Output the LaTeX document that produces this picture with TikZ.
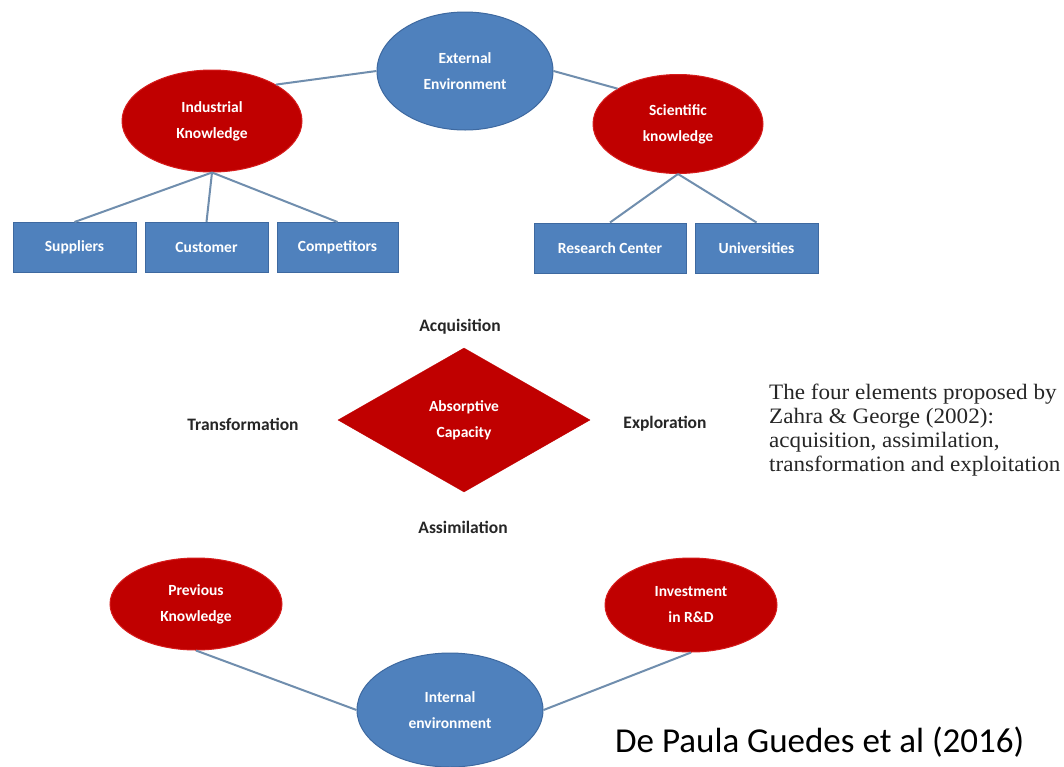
\documentclass[tikz,border=0pt]{standalone}
\usepackage{fontspec}
\setmainfont{Carlito}
\newfontfamily\notefont[FakeStretch=1.05]{Liberation Serif}
\usetikzlibrary{shapes.geometric}

\definecolor{capblue}{RGB}{79,129,189}
\definecolor{capblueedge}{RGB}{62,105,160}
\definecolor{capred}{RGB}{192,0,0}
\definecolor{capredge}{RGB}{214,28,28}
\definecolor{linkgray}{RGB}{112,142,174}
\definecolor{labelgray}{RGB}{38,38,38}

\begin{document}
\begin{tikzpicture}[x=1pt,y=-1pt,
  env/.style={ellipse, fill=capblue, draw=capblueedge, line width=1pt, text=white,
    font=\bfseries\fontsize{15.5}{26}\selectfont, align=center, inner sep=0pt},
  know/.style={ellipse, fill=capred, draw=capredge, line width=1pt, text=white,
    font=\bfseries\fontsize{15.5}{26}\selectfont, align=center, inner sep=0pt},
  leaf/.style={rectangle, fill=capblue, draw=capblueedge, line width=1pt, text=white,
    minimum height=50pt, inner sep=0pt, font=\bfseries\fontsize{15.5}{18}\selectfont},
  phase/.style={text=labelgray, inner sep=0pt, font=\bfseries\fontsize{17.5}{20}\selectfont},
  link/.style={draw=linkgray, line width=2pt}]
\useasboundingbox (0,0) rectangle (1064,766);
\fill[white] (0,0) rectangle (1064,766);

% external environment and its knowledge sources
\node[env, minimum width=176pt, minimum height=118pt] (ext) at (465,71) {External\\Environment};
\node[know, minimum width=180pt, minimum height=102pt] (ind) at (212,121) {Industrial\\Knowledge};
\node[know, minimum width=170pt, minimum height=99pt] (sci) at (678,124) {Scientific\\knowledge};

\node[leaf, minimum width=123pt] (sup) at (74.5,247.5) {Suppliers};
\node[leaf, minimum width=123pt] (cus) at (206.5,247.5) {Customer};
\node[leaf, minimum width=121pt] (com) at (337.5,247.5) {Competitors};
\node[leaf, minimum width=152pt] (res) at (610,248) {Research Center};
\node[leaf, minimum width=123pt] (uni) at (756.5,248) {Universities};

% absorptive capacity and its four dimensions
\node[diamond, fill=capred, draw=capred, minimum width=252pt, minimum height=144pt,
  inner sep=0pt, text=white, align=center, font=\bfseries\fontsize{15.5}{26}\selectfont]
  (ac) at (464,420) {Absorptive\\Capacity};
\node[phase] (acq) at (460,327) {Acquisition};
\node[phase] (tra) at (243,424) {Transformation};
\node[phase] (exp) at (665,424) {Exploration};
\node[phase] (ass) at (463,527) {Assimilation};

\node[anchor=north west, inner sep=0pt, align=left, text=labelgray,
  font=\notefont\fontsize{22}{24}\selectfont] (note) at (769,384)
  {The four elements proposed by\\Zahra \& George (2002):\\acquisition, assimilation,\\transformation and exploitation};

% internal environment
\node[know, minimum width=172pt, minimum height=92pt] (prev) at (196,604) {Previous\\Knowledge};
\node[know, minimum width=172pt, minimum height=94pt] (inv) at (691,605) {Investment\\in R\&D};
\node[env, minimum width=186pt, minimum height=114pt] (int) at (450,710) {Internal\\environment};

\node[anchor=base west, inner sep=0pt, text=black, font=\fontsize{35}{40}\selectfont]
  (src) at (615,752) {De Paula Guedes et al (2016)};

% connectors
\draw[link] (ind.north east) -- (ext.west);
\draw[link] (ext.east) -- (sci.north west);
\foreach \b in {sup,cus,com} \draw[link] (ind.south) -- (\b.north);
\foreach \b in {res,uni} \draw[link] (sci.south) -- (\b.north);
\draw[link] (prev.south) -- (int.west);
\draw[link] (inv.south) -- (int.east);
\end{tikzpicture}
\end{document}
